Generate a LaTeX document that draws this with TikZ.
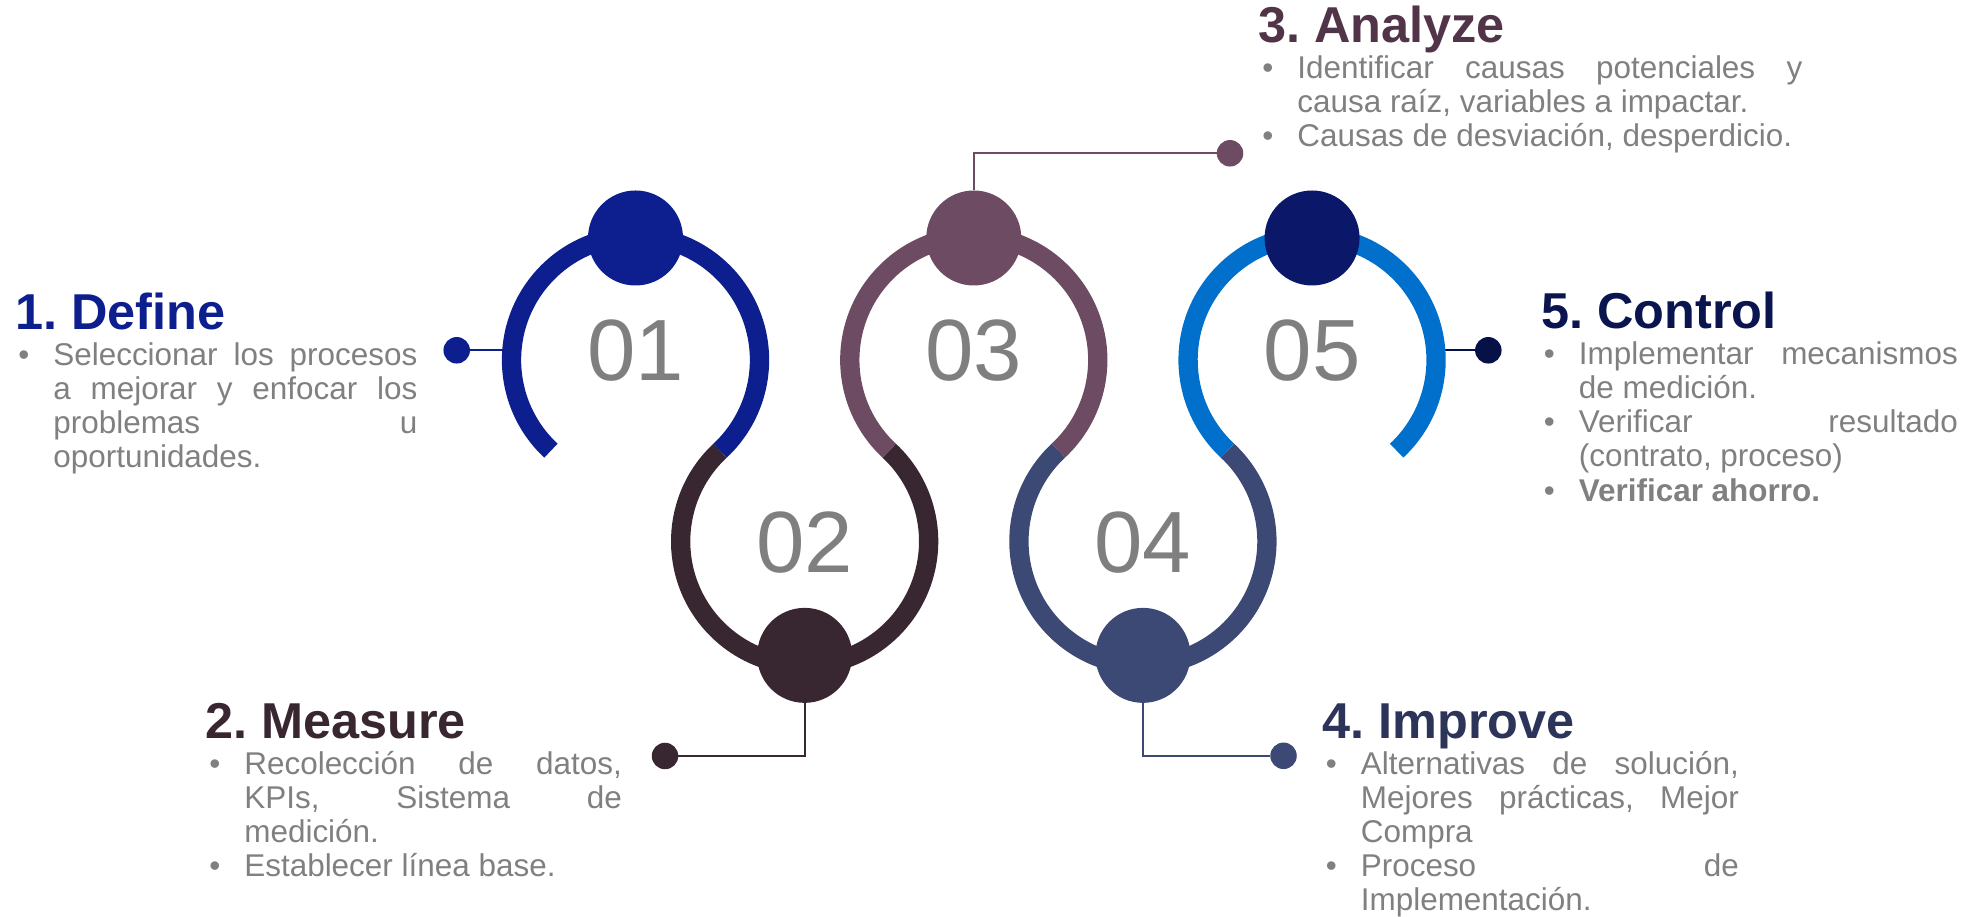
\documentclass[tikz,border=0pt]{standalone}
\usepackage{fontspec}
\setmainfont{Liberation Sans}
\usetikzlibrary{positioning}
\definecolor{defblue}{HTML}{0D1F8F}
\definecolor{measdark}{HTML}{382730}
\definecolor{anamauve}{HTML}{6D4C63}
\definecolor{anatitle}{HTML}{513447}
\definecolor{impblue}{HTML}{3D4975}
\definecolor{imptitle}{HTML}{2C3459}
\definecolor{ctrlring}{HTML}{0070CC}
\definecolor{ctrldot}{HTML}{0B1769}
\definecolor{ctrltitle}{HTML}{0A1550}
\definecolor{ctrlpin}{HTML}{061247}
\definecolor{numgray}{HTML}{7F7F7F}
\definecolor{txtgray}{HTML}{808080}
\frenchspacing
\newcommand\bodyfont{\fontsize{17.9}{19.35}\selectfont\tolerance=10000 \hyphenpenalty=10000 }
% bullet hangs in the left margin of the text block
\newcommand\itm{\leavevmode\llap{\textbullet\hspace{0.48cm}}}

\begin{document}
\begin{tikzpicture}[
  spot/.style={circle, minimum size=4.96cm, inner sep=0pt, outer sep=0pt},
  ring/.style={line width=0.386cm},
  dot/.style={circle, minimum size=1.9cm, inner sep=0pt, outer sep=0pt},
  pin/.style={circle, minimum size=0.53cm, inner sep=0pt, outer sep=0pt},
  link/.style={line width=0.045cm},
  num/.style={text=numgray, inner sep=0pt, font=\fontsize{49.5}{50}\selectfont},
  head/.style={anchor=base west, inner sep=0pt, font=\fontsize{28.7}{32}\selectfont\bfseries},
  body/.style={anchor=base west, inner sep=0pt, align=justify, text=txtgray, font=\bodyfont}]
\useasboundingbox (0,0) rectangle (39.5,18.34);

% the five rings, each one tangent to the next
\node[spot] (r1) at (12.71,11.14) {};
\node[spot] (r2) at ([shift={(-47:4.96cm)}]r1.center) {};
\node[spot] (r3) at ([shift={(47:4.96cm)}]r2.center) {};
\node[spot] (r4) at ([shift={(-47:4.96cm)}]r3.center) {};
\node[spot] (r5) at ([shift={(47:4.96cm)}]r4.center) {};

% pins and leader lines
\node[pin, fill=defblue] (p1) at (9.134,11.334) {};
\node[pin, fill=measdark] (p2) at (13.30,3.22) {};
\node[pin, fill=anamauve] (p3) at (24.60,15.274) {};
\node[pin, fill=impblue] (p4) at (25.67,3.224) {};
\node[pin, fill=ctrlpin] (p5) at (29.766,11.334) {};
\draw[link, defblue] (p1) -- (p1 -| r1.west);
\draw[link, ctrlpin] (p5) -- (p5 -| r5.east);

\draw[ring, defblue] (r1.227) arc[start angle=227, end angle=-47, radius=2.48cm];
\draw[ring, measdark] (r2.133) arc[start angle=133, end angle=407, radius=2.48cm];
\draw[ring, anamauve] (r3.227) arc[start angle=227, end angle=-47, radius=2.48cm];
\draw[ring, impblue] (r4.133) arc[start angle=133, end angle=407, radius=2.48cm];
\draw[ring, ctrlring] (r5.227) arc[start angle=227, end angle=-47, radius=2.48cm];

\node[dot, fill=defblue] (d1) at ([yshift=-0.04cm]r1.north) {};
\node[dot, fill=measdark] (d2) at ([yshift=0.2cm]r2.south) {};
\node[dot, fill=anamauve] (d3) at ([yshift=-0.04cm]r3.north) {};
\node[dot, fill=impblue] (d4) at ([yshift=0.2cm]r4.south) {};
\node[dot, fill=ctrldot] (d5) at ([yshift=-0.04cm]r5.north) {};
\draw[link, measdark] (d2) |- (p2);
\draw[link, anamauve] (d3) |- (p3);
\draw[link, impblue] (d4) |- (p4);

\node[num] (n1) at ([yshift=0.19cm]r1.center) {01};
\node[num] (n2) at ([yshift=-0.03cm]r2.center) {02};
\node[num] (n3) at ([yshift=0.19cm]r3.center) {03};
\node[num] (n4) at ([yshift=-0.03cm]r4.center) {04};
\node[num] (n5) at ([yshift=0.19cm]r5.center) {05};

% titles and bullet texts
\node[head, text=defblue] (t1) at (0.30,11.74) {1. Define};
\node[body, text width=7.28cm] (b1) at ([xshift=0.76cm, yshift=-0.72cm]t1.base west)
  {\itm Seleccionar los procesos\linebreak a mejorar y enfocar los\linebreak problemas u\linebreak oportunidades.};

\node[head, text=measdark] (t2) at (4.10,3.57) {2. Measure};
\node[body, text width=7.55cm] (b2) at ([xshift=0.78cm, yshift=-0.72cm]t2.base west)
  {\itm Recolección de datos,\linebreak KPIs, Sistema de\linebreak medición.\par
   \itm Establecer línea base.};

\node[head, text=anatitle] (t3) at (25.16,17.48) {3. Analyze};
\node[body, text width=10.1cm] (b3) at ([xshift=0.78cm, yshift=-0.72cm]t3.base west)
  {\itm Identificar causas potenciales y\linebreak causa raíz, variables a impactar.\par
   \itm Causas de desviación, desperdicio.};

\node[head, text=imptitle] (t4) at (26.44,3.57) {4. Improve};
\node[body, text width=7.56cm] (b4) at ([xshift=0.77cm, yshift=-0.72cm]t4.base west)
  {\itm Alternativas de solución,\linebreak Mejores prácticas, Mejor\linebreak Compra\par
   \itm Proceso de\linebreak Implementación.};

\node[head, text=ctrltitle] (t5) at (30.82,11.76) {5. Control};
\node[body, text width=7.58cm] (b5) at ([xshift=0.75cm, yshift=-0.72cm]t5.base west)
  {\itm Implementar mecanismos\linebreak de medición.\par
   \itm Verificar resultado\linebreak (contrato, proceso)\par
   \itm \textbf{Verificar ahorro.}};
\end{tikzpicture}
\end{document}
